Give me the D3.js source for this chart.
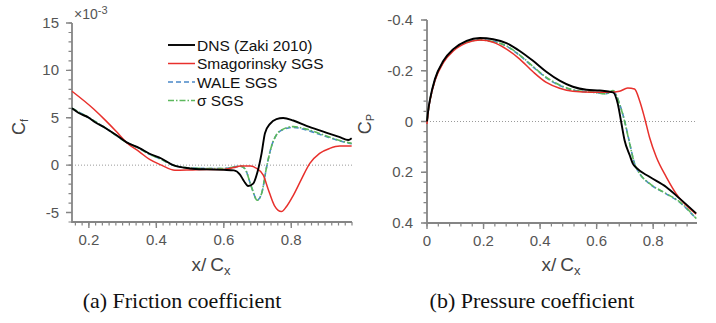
<!DOCTYPE html>
<html><head><meta charset="utf-8">
<script src="https://cdn.jsdelivr.net/npm/d3@7"></script>
<style>
html,body{margin:0;padding:0;background:#fff;}
</style>
</head><body>
<svg id="chart" width="716" height="323"></svg>
<script>
// ---------------- DATA ----------------
// (a) Friction coefficient Cf (x10^-3)
const cfDnsX  = [0.15,0.17,0.2,0.215,0.25,0.28,0.312,0.35,0.38,0.415,0.45,0.5,0.55,0.6,0.63,0.648,0.66,0.672,0.687,0.70,0.712,0.722,0.737,0.756,0.776,0.806,0.845,0.895,0.944,0.969,0.979];
const cfDnsY  = [6.0,5.5,5.0,4.6,3.9,3.2,2.4,1.8,1.2,0.7,0.0,-0.35,-0.45,-0.5,-0.55,-1.0,-1.7,-2.2,-1.95,-0.7,1.24,3.37,4.36,4.86,4.97,4.71,4.15,3.54,2.95,2.66,2.84];
const cfSmagX = [0.15,0.215,0.25,0.28,0.312,0.35,0.38,0.415,0.455,0.5,0.55,0.6,0.63,0.65,0.68,0.697,0.717,0.731,0.75,0.771,0.786,0.806,0.831,0.855,0.884,0.914,0.944,0.979];
const cfSmagY = [7.8,5.9,4.7,3.6,2.37,1.4,0.6,0.0,-0.53,-0.5,-0.45,-0.45,-0.25,-0.1,-0.1,-0.35,-1.06,-2.48,-4.26,-4.9,-4.36,-3.19,-1.42,0.18,1.24,1.77,2.02,2.02];
const cfWaleX = [0.15,0.2,0.25,0.312,0.35,0.38,0.415,0.45,0.5,0.55,0.6,0.63,0.648,0.662,0.682,0.699,0.712,0.727,0.741,0.756,0.776,0.806,0.845,0.895,0.944,0.979];
const cfWaleY = [6.0,5.0,3.9,2.4,1.75,1.15,0.6,0.0,-0.3,-0.35,-0.35,-0.2,-0.1,-0.35,-2.3,-3.7,-3.0,-0.18,1.95,3.2,3.75,3.98,3.7,3.12,2.55,2.25];
const cfSigX  = [0.15,0.2,0.25,0.312,0.35,0.38,0.415,0.45,0.5,0.55,0.6,0.63,0.648,0.662,0.682,0.699,0.712,0.727,0.741,0.756,0.776,0.806,0.845,0.895,0.944,0.979];
const cfSigY  = [6.0,5.0,3.9,2.4,1.75,1.15,0.6,0.0,-0.3,-0.35,-0.35,-0.2,-0.1,-0.35,-2.3,-3.7,-3.0,-0.18,1.95,3.2,3.8,4.07,3.8,3.19,2.6,2.3];

// (b) Pressure coefficient Cp
const cpDnsX  = [0,0.005,0.011,0.028,0.058,0.093,0.14,0.187,0.234,0.281,0.328,0.375,0.422,0.469,0.516,0.564,0.611,0.658,0.675,0.687,0.699,0.717,0.728,0.74,0.787,0.846,0.893,0.952];
const cpDnsY  = [0.0,-0.05,-0.089,-0.167,-0.239,-0.285,-0.318,-0.329,-0.324,-0.309,-0.278,-0.239,-0.196,-0.161,-0.137,-0.125,-0.122,-0.115,-0.069,0.003,0.075,0.133,0.166,0.182,0.218,0.258,0.303,0.362];
const cpSmagX = [0,0.005,0.011,0.028,0.058,0.093,0.14,0.187,0.234,0.281,0.328,0.375,0.422,0.469,0.516,0.587,0.65,0.681,0.71,0.734,0.752,0.769,0.787,0.811,0.846,0.881,0.952];
const cpSmagY = [0.01,-0.045,-0.085,-0.16,-0.232,-0.278,-0.31,-0.321,-0.312,-0.285,-0.246,-0.196,-0.154,-0.131,-0.119,-0.115,-0.115,-0.119,-0.132,-0.128,-0.082,-0.017,0.062,0.14,0.218,0.284,0.365];
const cpWaleX = [0,0.005,0.011,0.028,0.058,0.093,0.14,0.187,0.234,0.281,0.328,0.375,0.422,0.469,0.516,0.587,0.634,0.658,0.681,0.699,0.717,0.734,0.752,0.787,0.846,0.893,0.952];
const cpWaleY = [0.0,-0.047,-0.087,-0.163,-0.235,-0.281,-0.313,-0.322,-0.316,-0.297,-0.26,-0.215,-0.172,-0.142,-0.124,-0.115,-0.11,-0.12,-0.07,-0.002,0.086,0.165,0.205,0.245,0.285,0.318,0.383];
const cpSigX  = [0,0.005,0.011,0.028,0.058,0.093,0.14,0.187,0.234,0.281,0.328,0.375,0.422,0.469,0.516,0.587,0.634,0.658,0.681,0.699,0.717,0.734,0.752,0.787,0.846,0.893,0.952];
const cpSigY  = [0.0,-0.047,-0.087,-0.163,-0.235,-0.281,-0.313,-0.321,-0.315,-0.298,-0.262,-0.217,-0.174,-0.144,-0.125,-0.115,-0.109,-0.122,-0.069,0.0,0.088,0.166,0.205,0.244,0.284,0.316,0.382];

const seriesNames = ["DNS (Zaki 2010)", "Smagorinsky SGS", "WALE SGS", "\u03c3 SGS"];

// tick values / labels
const cfXTicks = [0.2,0.4,0.6,0.8];
const cfXTickLabels = ["0.2","0.4","0.6","0.8"];
const cfYTicks = [15,10,5,0,-5];
const cfYTickLabels = ["15","10","5","0","-5"];
const cpXTicks = [0,0.2,0.4,0.6,0.8];
const cpXTickLabels = ["0","0.2","0.4","0.6","0.8"];
const cpYTicks = [-0.4,-0.2,0,0.2,0.4];
const cpYTickLabels = ["-0.4","-0.2","0","0.2","0.4"];
const captions = ["(a) Friction coefficient", "(b) Pressure coefficient"];

// ---------------- STYLE ----------------
const styles = [
  {color:"#000000", width:1.9, dash:null},
  {color:"#e8302c", width:1.5, dash:null},
  {color:"#4a88c8", width:1.6, dash:"5,3"},
  {color:"#5cb85c", width:1.6, dash:"6,2,1.5,2"}
];
const axisColor = "#858585";
const labelColor = "#555";
const sans = "'Liberation Sans', Arial, Helvetica, sans-serif";

const svg = d3.select("#chart");

function range(a,b,step){const r=[];for(let v=a;v<=b+1e-9;v+=step)r.push(+v.toFixed(6));return r;}

function drawPanel(cfg){
  const x = d3.scaleLinear().domain(cfg.xDomain).range(cfg.xRange);
  const y = d3.scaleLinear().domain(cfg.yDomain).range(cfg.yRange);
  const x0 = cfg.xRange[0], x1 = cfg.xRange[1];
  const yb = Math.max(cfg.yRange[0], cfg.yRange[1]);
  const yt = Math.min(cfg.yRange[0], cfg.yRange[1]);
  const g = svg.append("g");

  // zero dotted line
  g.append("line")
    .attr("x1", x0).attr("x2", x1)
    .attr("y1", y(0)).attr("y2", y(0))
    .attr("stroke","#9a9a9a").attr("stroke-width",1).attr("stroke-dasharray","1,2");

  // axis frame (left + bottom) as one path built from the scales
  const frame = d3.path();
  frame.moveTo(x0, yt); frame.lineTo(x0, yb); frame.lineTo(x1, yb);
  g.append("path").attr("d", frame.toString())
    .attr("fill","none").attr("stroke",axisColor).attr("stroke-width",1.8)
    .attr("stroke-linejoin","miter");

  // tick marks as one path each
  const minor = d3.path();
  cfg.xMinor.forEach(d=>{minor.moveTo(x(d), yb); minor.lineTo(x(d), yb+3.5);});
  cfg.yMinor.forEach(d=>{minor.moveTo(x0, y(d)); minor.lineTo(x0-3.5, y(d));});
  g.append("path").attr("d", minor.toString())
    .attr("fill","none").attr("stroke",axisColor).attr("stroke-width",1.2);
  const major = d3.path();
  cfg.xTicks.forEach(d=>{major.moveTo(x(d), yb); major.lineTo(x(d), yb+6);});
  cfg.yTicks.forEach(d=>{major.moveTo(x0, y(d)); major.lineTo(x0-6, y(d));});
  g.append("path").attr("d", major.toString())
    .attr("fill","none").attr("stroke",axisColor).attr("stroke-width",1.4);

  // tick labels
  g.selectAll("text.xl").data(cfg.xTicks).join("text").attr("class","xl")
    .attr("x",d=>x(d)).attr("y",yb+23).attr("text-anchor","middle").attr("fill",labelColor)
    .style("font-family",sans).style("font-size","15px")
    .text((d,i)=>cfg.xTickLabels[i]);
  g.selectAll("text.yl").data(cfg.yTicks).join("text").attr("class","yl")
    .attr("x",x0-cfg.yLabelGap).attr("y",d=>y(d)+5).attr("text-anchor","end").attr("fill",labelColor)
    .style("font-family",sans).style("font-size","15px")
    .text((d,i)=>cfg.yTickLabels[i]);

  // series
  const line = d3.line().x(d=>x(d[0])).y(d=>y(d[1])).curve(d3.curveMonotoneX);
  const order = [2,3,1,0];
  order.forEach(k=>{
    const s = cfg.series[k];
    const data = s.x.map((v,i)=>[v,s.y[i]]);
    g.append("path").datum(data).attr("d",line)
      .attr("fill","none").attr("stroke",styles[k].color)
      .attr("stroke-width",styles[k].width)
      .attr("stroke-dasharray",styles[k].dash)
      .attr("stroke-linejoin","round");
  });

  // x label
  const xl = g.append("text").attr("x",cfg.xLabelPos[0]).attr("y",cfg.xLabelPos[1])
    .attr("text-anchor","middle").attr("fill","#444")
    .style("font-family",sans).style("font-size","19px");
  xl.append("tspan").text("x/\u2009C");
  xl.append("tspan").attr("dy",4).style("font-size","13px").text("x");

  // y label (rotated)
  const yl = g.append("text")
    .attr("transform",`translate(${cfg.yLabelPos[0]},${cfg.yLabelPos[1]}) rotate(-90)`)
    .attr("text-anchor","middle").attr("fill","#444")
    .style("font-family",sans).style("font-size","18px");
  yl.append("tspan").text("C");
  yl.append("tspan").attr("dy",3).style("font-size","11px").text(cfg.ySub);

  // caption
  svg.append("text").attr("x",cfg.captionPos[0]).attr("y",cfg.captionPos[1])
    .attr("text-anchor","middle").attr("fill","#111")
    .style("font-family","'Liberation Serif','Times New Roman',serif").style("font-size","22px")
    .text(cfg.caption);
}

drawPanel({
  xDomain:[0.15,0.98], xRange:[72,352],
  yDomain:[-6,15], yRange:[222,23],
  xTicks:cfXTicks, xTickLabels:cfXTickLabels,
  yTicks:cfYTicks, yTickLabels:cfYTickLabels,
  xMinor:range(0.16,0.98,0.02), yMinor:range(-6,15,1),
  series:[{x:cfDnsX,y:cfDnsY},{x:cfSmagX,y:cfSmagY},{x:cfWaleX,y:cfWaleY},{x:cfSigX,y:cfSigY}],
  xLabelPos:[211,271], yLabelPos:[25,127], ySub:"f", yLabelGap:13,
  captionPos:[182,308], caption:captions[0]
});

// x10^-3 multiplier
const mult = svg.append("text").attr("x",74).attr("y",19).attr("fill",labelColor)
  .style("font-family",sans).style("font-size","14px");
mult.append("tspan").text("\u00d710");
mult.append("tspan").attr("dy",-5).style("font-size","11px").text("-3");

drawPanel({
  xDomain:[0,0.955], xRange:[427,697],
  yDomain:[-0.4,0.4], yRange:[20,223],
  xTicks:cpXTicks, xTickLabels:cpXTickLabels,
  yTicks:cpYTicks, yTickLabels:cpYTickLabels,
  xMinor:range(0,0.955,0.04), yMinor:range(-0.4,0.4,0.04),
  series:[{x:cpDnsX,y:cpDnsY},{x:cpSmagX,y:cpSmagY},{x:cpWaleX,y:cpWaleY},{x:cpSigX,y:cpSigY}],
  xLabelPos:[561,271], yLabelPos:[371,124], ySub:"P", yLabelGap:14,
  captionPos:[532,308], caption:captions[1]
});

// legend
const legend = svg.append("g");
const legY = [45,63.5,82,100.5];
seriesNames.forEach((name,i)=>{
  legend.append("line").attr("x1",168).attr("x2",195).attr("y1",legY[i]).attr("y2",legY[i])
    .attr("stroke",styles[i].color).attr("stroke-width",styles[i].width)
    .attr("stroke-dasharray",styles[i].dash);
  legend.append("text").attr("x",197).attr("y",legY[i]+5.5).attr("fill","#111")
    .style("font-family",sans).style("font-size","15.5px").text(name);
});
</script>
</body></html>
